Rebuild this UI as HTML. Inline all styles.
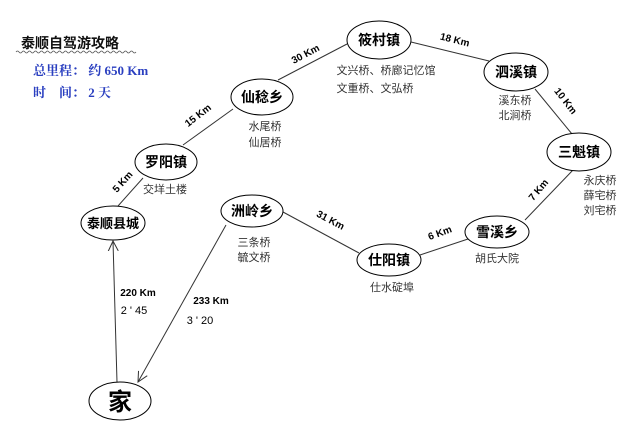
<!DOCTYPE html>
<html><head><meta charset="utf-8"><style>
html,body{margin:0;padding:0;background:#fff;}
svg{display:block;}
.n{font-family:"Liberation Sans","WenQuanYi Zen Hei","Noto Sans CJK SC",sans-serif;font-weight:bold;font-size:14px;fill:#000;text-anchor:middle;}
.s{font-family:"Liberation Sans","Noto Sans CJK SC",sans-serif;font-size:11px;fill:#333;text-anchor:middle;}
.k{font-family:"Liberation Sans",sans-serif;font-weight:bold;font-size:10px;fill:#000;text-anchor:middle;}
.b{font-family:"Liberation Serif","Noto Serif CJK SC",serif;font-weight:bold;font-size:13px;fill:#2a3fc0;}
</style></head><body>
<svg width="639" height="441" viewBox="0 0 639 441" xmlns="http://www.w3.org/2000/svg">
<defs>
<marker id="a" markerWidth="12" markerHeight="12" refX="10" refY="6" orient="auto" markerUnits="userSpaceOnUse">
<path d="M0,1 L10,6 L0,11" fill="none" stroke="#333" stroke-width="1"/>
</marker>
</defs>
<g stroke="#333" stroke-width="1" fill="none">
<line x1="278" y1="80" x2="347" y2="44"/>
<line x1="411" y1="42" x2="489" y2="61"/>
<line x1="535" y1="89" x2="572" y2="134"/>
<line x1="573" y1="170" x2="525" y2="220"/>
<line x1="471" y1="238" x2="420" y2="255"/>
<line x1="359" y1="253" x2="283" y2="212"/>
<line x1="226" y1="225" x2="138" y2="382" marker-end="url(#a)"/>
<line x1="117" y1="382" x2="113" y2="241" marker-end="url(#a)"/>
<line x1="118" y1="206" x2="143" y2="178"/>
<line x1="183" y1="145" x2="233" y2="109"/>
</g>
<g stroke="#000" stroke-width="1" fill="#fff">
<ellipse cx="262" cy="97" rx="31" ry="18"/>
<ellipse cx="166" cy="162" rx="31" ry="18"/>
<ellipse cx="113" cy="223" rx="32" ry="17"/>
<ellipse cx="252" cy="211" rx="31" ry="16"/>
<ellipse cx="389" cy="260" rx="32" ry="16"/>
<ellipse cx="497" cy="232" rx="32" ry="16"/>
<ellipse cx="120" cy="401" rx="31" ry="19"/>
<ellipse cx="379" cy="40" rx="32" ry="19"/>
<ellipse cx="516" cy="72" rx="32" ry="19"/>
<ellipse cx="579" cy="152" rx="32" ry="19"/>
</g>
<text class="n" x="262" y="102">仙稔乡</text>
<text class="n" x="166" y="167">罗阳镇</text>
<text class="n" x="113" y="228" style="font-size:13px">泰顺县城</text>
<text class="n" x="252" y="216">洲岭乡</text>
<text class="n" x="389" y="265">仕阳镇</text>
<text class="n" x="497" y="237">雪溪乡</text>
<text class="n" x="120" y="410" style="font-size:24px">家</text>
<text class="n" x="379" y="45">筱村镇</text>
<text class="n" x="516" y="77">泗溪镇</text>
<text class="n" x="579" y="157">三魁镇</text>

<text class="s" x="265" y="130">水尾桥</text>
<text class="s" x="265" y="146">仙居桥</text>
<text class="s" x="165" y="193">交垟土楼</text>
<text class="s" x="254" y="246">三条桥</text>
<text class="s" x="254" y="261">毓文桥</text>
<text class="s" x="392" y="291">仕水碇埠</text>
<text class="s" x="497" y="262">胡氏大院</text>
<text class="s" x="386" y="74">文兴桥、桥廊记忆馆</text>
<text class="s" x="375" y="92">文重桥、文弘桥</text>
<text class="s" x="515" y="104">溪东桥</text>
<text class="s" x="515" y="119">北涧桥</text>
<text class="s" x="600" y="184">永庆桥</text>
<text class="s" x="600" y="199">薛宅桥</text>
<text class="s" x="600" y="214">刘宅桥</text>

<text class="k" transform="translate(307,57) rotate(-28)">30 Km</text>
<text class="k" transform="translate(454,43) rotate(14)">18 Km</text>
<text class="k" transform="translate(563,103) rotate(52)">10 Km</text>
<text class="k" transform="translate(541,192) rotate(-50)">7 Km</text>
<text class="k" transform="translate(441,236) rotate(-20)">6 Km</text>
<text class="k" transform="translate(329,223) rotate(28)">31 Km</text>
<text class="k" transform="translate(125,184) rotate(-48)">5 Km</text>
<text class="k" transform="translate(200,118) rotate(-38)">15 Km</text>
<text class="k" x="138" y="296">220 Km</text>
<text class="s" x="134" y="314" style="fill:#000">2 ' 45</text>
<text class="k" x="211" y="304">233 Km</text>
<text class="s" x="200" y="324" style="fill:#000">3 ' 20</text>

<text x="21" y="48" style="font-family:'WenQuanYi Zen Hei','Noto Sans CJK SC',sans-serif;font-weight:bold;font-size:14px;fill:#111">泰顺自驾游攻略</text>
<path d="M16,52 q1.5,-2 3,0 t3,0 t3,0 t3,0 t3,0 t3,0 t3,0 t3,0 t3,0 t3,0 t3,0 t3,0 t3,0 t3,0 t3,0 t3,0 t3,0 t3,0 t3,0 t3,0 t3,0 t3,0 t3,0 t3,0 t3,0 t3,0 t3,0 t3,0 t3,0 t3,0 t3,0 t3,0 t3,0 t3,0 t3,0 t3,0 t3,0 t3,0 t3,0 t3,0" fill="none" stroke="#555" stroke-width="0.8"/>
<text class="b" x="33" y="75">总里程： 约 650 Km</text>
<text class="b" x="33" y="97">时&#160;&#160;&#160; 间： 2 天</text>
</svg>
</body></html>
